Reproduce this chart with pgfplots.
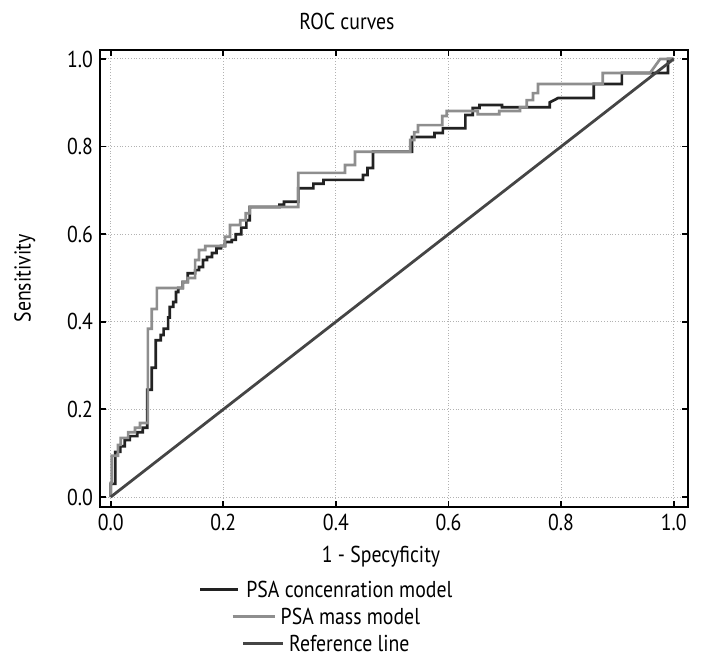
\documentclass[border=0pt]{standalone}
\usepackage{pgfplots}
\pgfplotsset{compat=1.18}
\usepackage{fontspec}
\setmainfont{PT Sans}[FakeStretch=0.86]
\definecolor{cblack}{HTML}{222222}
\definecolor{cgray}{HTML}{8E8E8E}
\definecolor{cref}{HTML}{454545}
\begin{document}
\begin{tikzpicture}
\path[use as bounding box] (-50pt,-78pt) rectangle (310pt,253.5pt);
\begin{axis}[
  at={(0,0)}, anchor=south west,
  scale only axis, width=294pt, height=228.5pt,
  xmin=-0.019, xmax=1.0254, ymin=-0.0228, ymax=1.0205,
  xtick={0,0.2,0.4,0.6,0.8,1.0}, ytick={0,0.2,0.4,0.6,0.8,1.0},
  tick align=inside, major tick length=3pt,
  xtick pos=both, ytick pos=both,
  every tick/.style={black, line width=0.9pt},
  axis line style={line width=1pt, black},
  grid=major, major grid style={densely dotted, black!30, line width=0.5pt},
  font=\fontsize{11.5pt}{13pt}\selectfont,
  ticklabel style={font=\fontsize{11.5pt}{13pt}\selectfont, /pgf/number format/.cd, fixed, fixed zerofill, precision=1, assume math mode=true},
  title={ROC curves},
  title style={at={(0.42,1)}, anchor=center, yshift=8.5pt, font=\fontsize{11.5pt}{13pt}\selectfont},
  xlabel={1 - Specyficity},
  xlabel style={at={(0.478,0)}, anchor=north, yshift=-16pt},
  ylabel={Sensitivity},
  ylabel style={at={(-0.128,0.5)}, anchor=center},
  legend image code/.code={},
  legend cell align=center,
  legend style={draw=none, fill=none, at={(0.385,-0.152)}, anchor=north,
    font=\fontsize{11.5pt}{12pt}\selectfont, row sep=0pt, inner sep=0pt},
]
\addplot[cblack, line width=1.35pt] coordinates {
(0,0)(0,0.03)(0.008,0.03)(0.008,0.103)(0.017,0.103)(0.017,0.116)(0.025,0.116)(0.025,0.130)(0.034,0.130)(0.034,0.139)(0.047,0.139)(0.047,0.148)(0.057,0.148)(0.057,0.158)(0.065,0.158)(0.065,0.245)(0.073,0.245)(0.073,0.295)(0.080,0.295)(0.080,0.358)(0.089,0.358)(0.089,0.37)(0.094,0.37)(0.094,0.384)(0.102,0.384)(0.102,0.41)(0.105,0.41)(0.105,0.434)(0.111,0.434)(0.111,0.445)(0.116,0.445)(0.116,0.468)(0.12,0.468)(0.12,0.477)(0.128,0.477)(0.128,0.491)(0.137,0.491)(0.137,0.511)(0.150,0.511)(0.150,0.518)(0.157,0.518)(0.157,0.525)(0.164,0.525)(0.164,0.541)(0.171,0.541)(0.171,0.548)(0.18,0.548)(0.18,0.557)(0.188,0.557)(0.188,0.568)(0.196,0.568)(0.196,0.573)(0.203,0.573)(0.203,0.582)(0.215,0.582)(0.215,0.587)(0.222,0.587)(0.222,0.600)(0.232,0.600)(0.232,0.615)(0.241,0.615)(0.241,0.632)(0.247,0.632)(0.247,0.662)(0.300,0.662)(0.300,0.667)(0.308,0.667)(0.308,0.674)(0.333,0.674)(0.333,0.705)(0.36,0.705)(0.36,0.715)(0.378,0.715)(0.378,0.724)(0.448,0.724)(0.448,0.735)(0.456,0.735)(0.456,0.751)(0.466,0.751)(0.466,0.788)(0.535,0.788)(0.535,0.822)(0.575,0.822)(0.575,0.831)(0.59,0.831)(0.59,0.842)(0.63,0.842)(0.63,0.872)(0.643,0.872)(0.643,0.888)(0.655,0.888)(0.655,0.895)(0.695,0.895)(0.695,0.89)(0.78,0.89)(0.78,0.901)(0.795,0.911)(0.858,0.911)(0.858,0.943)(0.908,0.943)(0.908,0.968)(0.958,0.968)(0.99,0.968)(0.99,1.0)(1,1)
};
\addlegendentry{\textcolor{cblack}{\rule[0.28em]{19pt}{1.6pt}}\hspace{4pt}PSA concenration model}
\addplot[cgray, line width=1.35pt] coordinates {
(0,0)(0,0.032)(0.002,0.032)(0.002,0.094)(0.013,0.094)(0.013,0.119)(0.018,0.119)(0.018,0.135)(0.031,0.135)(0.031,0.148)(0.043,0.148)(0.043,0.158)(0.052,0.158)(0.052,0.169)(0.066,0.169)(0.066,0.384)(0.073,0.384)(0.073,0.429)(0.082,0.429)(0.082,0.477)(0.128,0.477)(0.128,0.491)(0.137,0.491)(0.137,0.5)(0.150,0.5)(0.150,0.541)(0.157,0.541)(0.157,0.564)(0.168,0.564)(0.168,0.573)(0.203,0.573)(0.203,0.594)(0.212,0.594)(0.212,0.621)(0.230,0.621)(0.230,0.632)(0.240,0.632)(0.240,0.648)(0.247,0.648)(0.247,0.662)(0.333,0.662)(0.333,0.740)(0.416,0.740)(0.416,0.758)(0.434,0.758)(0.434,0.788)(0.532,0.788)(0.532,0.815)(0.539,0.815)(0.539,0.833)(0.546,0.833)(0.546,0.849)(0.589,0.849)(0.589,0.870)(0.597,0.870)(0.597,0.881)(0.652,0.881)(0.652,0.874)(0.69,0.874)(0.69,0.881)(0.727,0.881)(0.727,0.890)(0.739,0.890)(0.739,0.906)(0.750,0.906)(0.750,0.922)(0.759,0.922)(0.759,0.943)(0.874,0.943)(0.874,0.968)(0.958,0.968)(0.976,1.0)(1,1)
};
\addlegendentry{\textcolor{cgray}{\rule[0.28em]{21pt}{1.6pt}}\hspace{3pt}PSA mass model}
\addplot[cref, line width=1.4pt] coordinates {(0,0)(1,1)};
\addlegendentry{\textcolor{cref}{\rule[0.28em]{20pt}{1.6pt}}\hspace{3pt}Reference line}
\end{axis}
\end{tikzpicture}
\end{document}
